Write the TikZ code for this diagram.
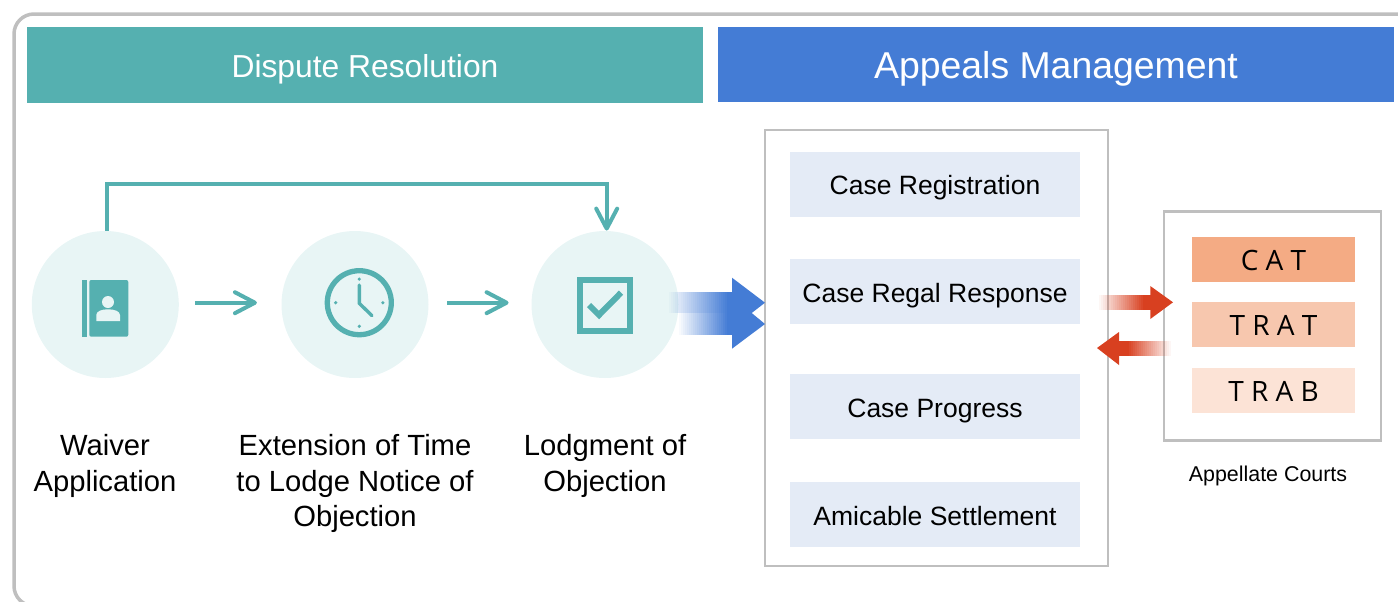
\documentclass[tikz,border=0pt]{standalone}
\usepackage{fontspec}
\setmainfont{Liberation Sans}
\newfontfamily\courtfont{Open Sans}
\usetikzlibrary{arrows.meta}
\definecolor{tealmain}{HTML}{55B0B0}
\definecolor{tealpale}{HTML}{E8F5F5}
\definecolor{bluemain}{HTML}{447CD5}
\definecolor{bluepale}{HTML}{E4EBF6}
\definecolor{framegray}{HTML}{BFBFBF}
\definecolor{redmain}{HTML}{D84020}
\definecolor{courtone}{HTML}{F4AB84}
\definecolor{courttwo}{HTML}{F7C7AE}
\definecolor{courtthree}{HTML}{FCE3D6}
\begin{document}
\begin{tikzpicture}[x=0.5pt,y=-0.5pt]
        \useasboundingbox (0,0) rectangle (1398,601);
        \draw[framegray, line width=1.75pt, rounded corners=10pt] (14,606) rectangle (1430,14);

        \begin{scope}[
            header/.style={minimum height=38pt, inner sep=0pt, text=white, minimum width=338pt, text depth=0pt},
            step circle/.style={circle, fill=tealpale, minimum size=73.5pt, inner sep=0pt},
            label text/.style={align=center, inner sep=0pt, font=\fontsize{14.6}{17.75}\selectfont},
            frame box/.style={draw=framegray, line width=1.25pt, inner sep=0pt},
            item box/.style={fill=bluepale, minimum width=145pt, minimum height=32.5pt, inner sep=0pt, text height=11pt, text depth=0pt, font=\fontsize{13.25}{16}\selectfont},
            court box/.style={minimum width=81.5pt, minimum height=22.5pt, inner sep=0pt, text height=11pt, text depth=0pt, font=\courtfont\fontsize{14}{16}\selectfont}]
            \node[header, fill=tealmain, text height=12.7pt, font=\fontsize{15.9}{20}\selectfont] (dispute) at (365,65) {Dispute Resolution};
            \node[header, fill=bluemain, text height=13.5pt, font=\fontsize{18.7}{22}\selectfont, minimum height=37.5pt] (appeals) at (1056,64.5) {Appeals Management};

            \node[step circle] (waiver) at (105.3,304.5) {};
            \node[step circle] (extension) at (355,304.5) {};
            \node[step circle] (lodgment) at (605,304.5) {};

            \node[label text] (waivertext) at (105,466) {Waiver\\Application};
            \node[label text] (extensiontext) at (355,483.5) {Extension of Time\\to Lodge Notice of\\Objection};
            \node[label text] (lodgmenttext) at (605,466) {Lodgment of\\Objection};

            \node[frame box, minimum width=171.5pt, minimum height=218pt] (appealsframe) at (936.5,348) {};
            \node[item box, text height=9.8pt] (registration) at (935,184.5) {Case Registration};
            \node[item box] (response) at (935,291.5) {Case Regal Response};
            \node[item box] (progress) at (935,406.5) {Case Progress};
            \node[item box] (settlement) at (935,514.5) {Amicable Settlement};

            \node[frame box, minimum width=108.5pt, minimum height=114.5pt] (courtframe) at (1272.5,326) {};
            \node[court box, fill=courtone] (cat) at (1273.5,259.5) {C A T};
            \node[court box, fill=courttwo] (trat) at (1273.5,324.5) {T R A T};
            \node[court box, fill=courtthree] (trab) at (1273.5,390.5) {T R A B};
            \node[inner sep=0pt, font=\fontsize{10.7}{13}\selectfont] (courtstext) at (1268,476) {Appellate Courts};
        \end{scope}

        \begin{scope}[
            every edge/.style={draw=tealmain, line width=2pt},
            barb/.style={-{Straight Barb[length=10pt, width=10.5pt, line width=2pt, round]}}]
            \path [barb, shorten >=12.1pt, shorten <=8.1pt] ([yshift=0.9pt]waiver.east) edge ([yshift=0.9pt]extension.west);
            \path [barb, shorten >=11.25pt, shorten <=9.25pt] ([yshift=0.9pt]extension.east) edge ([yshift=0.9pt]lodgment.west);
        \end{scope}
        \draw[draw=tealmain, line width=2pt, -{Straight Barb[length=10pt, width=10.5pt, line width=2pt, round]}] ([xshift=0.7pt]waiver.north) -- ++(0,-46.7) -| ([xshift=0.85pt]lodgment.north);

        % icon of the address book
        \fill[tealmain] (82,280) rectangle (86.7,336.7);
        \fill[tealmain, rounded corners=1pt] (89.3,280) -- (128.3,280) -- (128.3,336.7) -- (89.3,336.7) -- cycle;
        \fill[tealpale] (108,302) circle (3pt);
        \fill[tealpale] (96.3,321) -- (96.3,315) .. controls (96.3,311) and (102,309.3) .. (108,309.3) .. controls (114,309.3) and (120,311) .. (120,315) -- (120,321) -- cycle;

        % icon of the clock
        \draw[tealmain, line width=2.65pt] (359.3,302.7) circle (16pt);
        \draw[tealmain, line width=1.7pt, line cap=round] (359.3,285) -- (359.3,303.3) -- (372,315.7);
        \foreach \a in {0,90,180,270}
            \fill[tealmain] (359.3,302.7) ++(\a:23.6) circle (0.9pt);

        % icon of the check box
        \draw[tealmain, line width=3pt] (579.7,280) rectangle (630.3,331);
        \draw[tealmain, line width=3pt] (589,305) -- (599,315) -- (621,292.7);

        % the wide arrows
        \foreach \i [evaluate=\i as \op using \i/30] in {0,...,29}
            \fill[bluemain, opacity=\op] ({667+2*\i},291.7) rectangle ({669+2*\i},313.3);
        \foreach \i [evaluate=\i as \op using \i/25] in {0,...,24}
            \fill[bluemain, opacity=\op] ({677+2*\i},312.7) rectangle ({679+2*\i},335);
        \fill[bluemain] (727,291.7) rectangle (733,335);
        \fill[bluemain] (732,277.7) -- (765,302.7) -- (751.7,313) -- (765,324) -- (732,348.7) -- cycle;

        \foreach \i [evaluate=\i as \op using \i/23] in {0,...,22}
            \fill[redmain, opacity=\op] ({1097+2*\i},295) rectangle ({1099+2*\i},310);
        \fill[redmain] (1143,295) rectangle (1151,310);
        \fill[redmain] (1150.3,286) -- (1173,302.3) -- (1150.3,319) -- cycle;
        \foreach \i [evaluate=\i as \op using 1-\i/22] in {0,...,21}
            \fill[redmain, opacity=\op] ({1127+2*\i},341) rectangle ({1129+2*\i},355.7);
        \fill[redmain] (1118,341) rectangle (1127,355.7);
        \fill[redmain] (1119,332) -- (1097,348) -- (1119,365) -- cycle;
\end{tikzpicture}
\end{document}
